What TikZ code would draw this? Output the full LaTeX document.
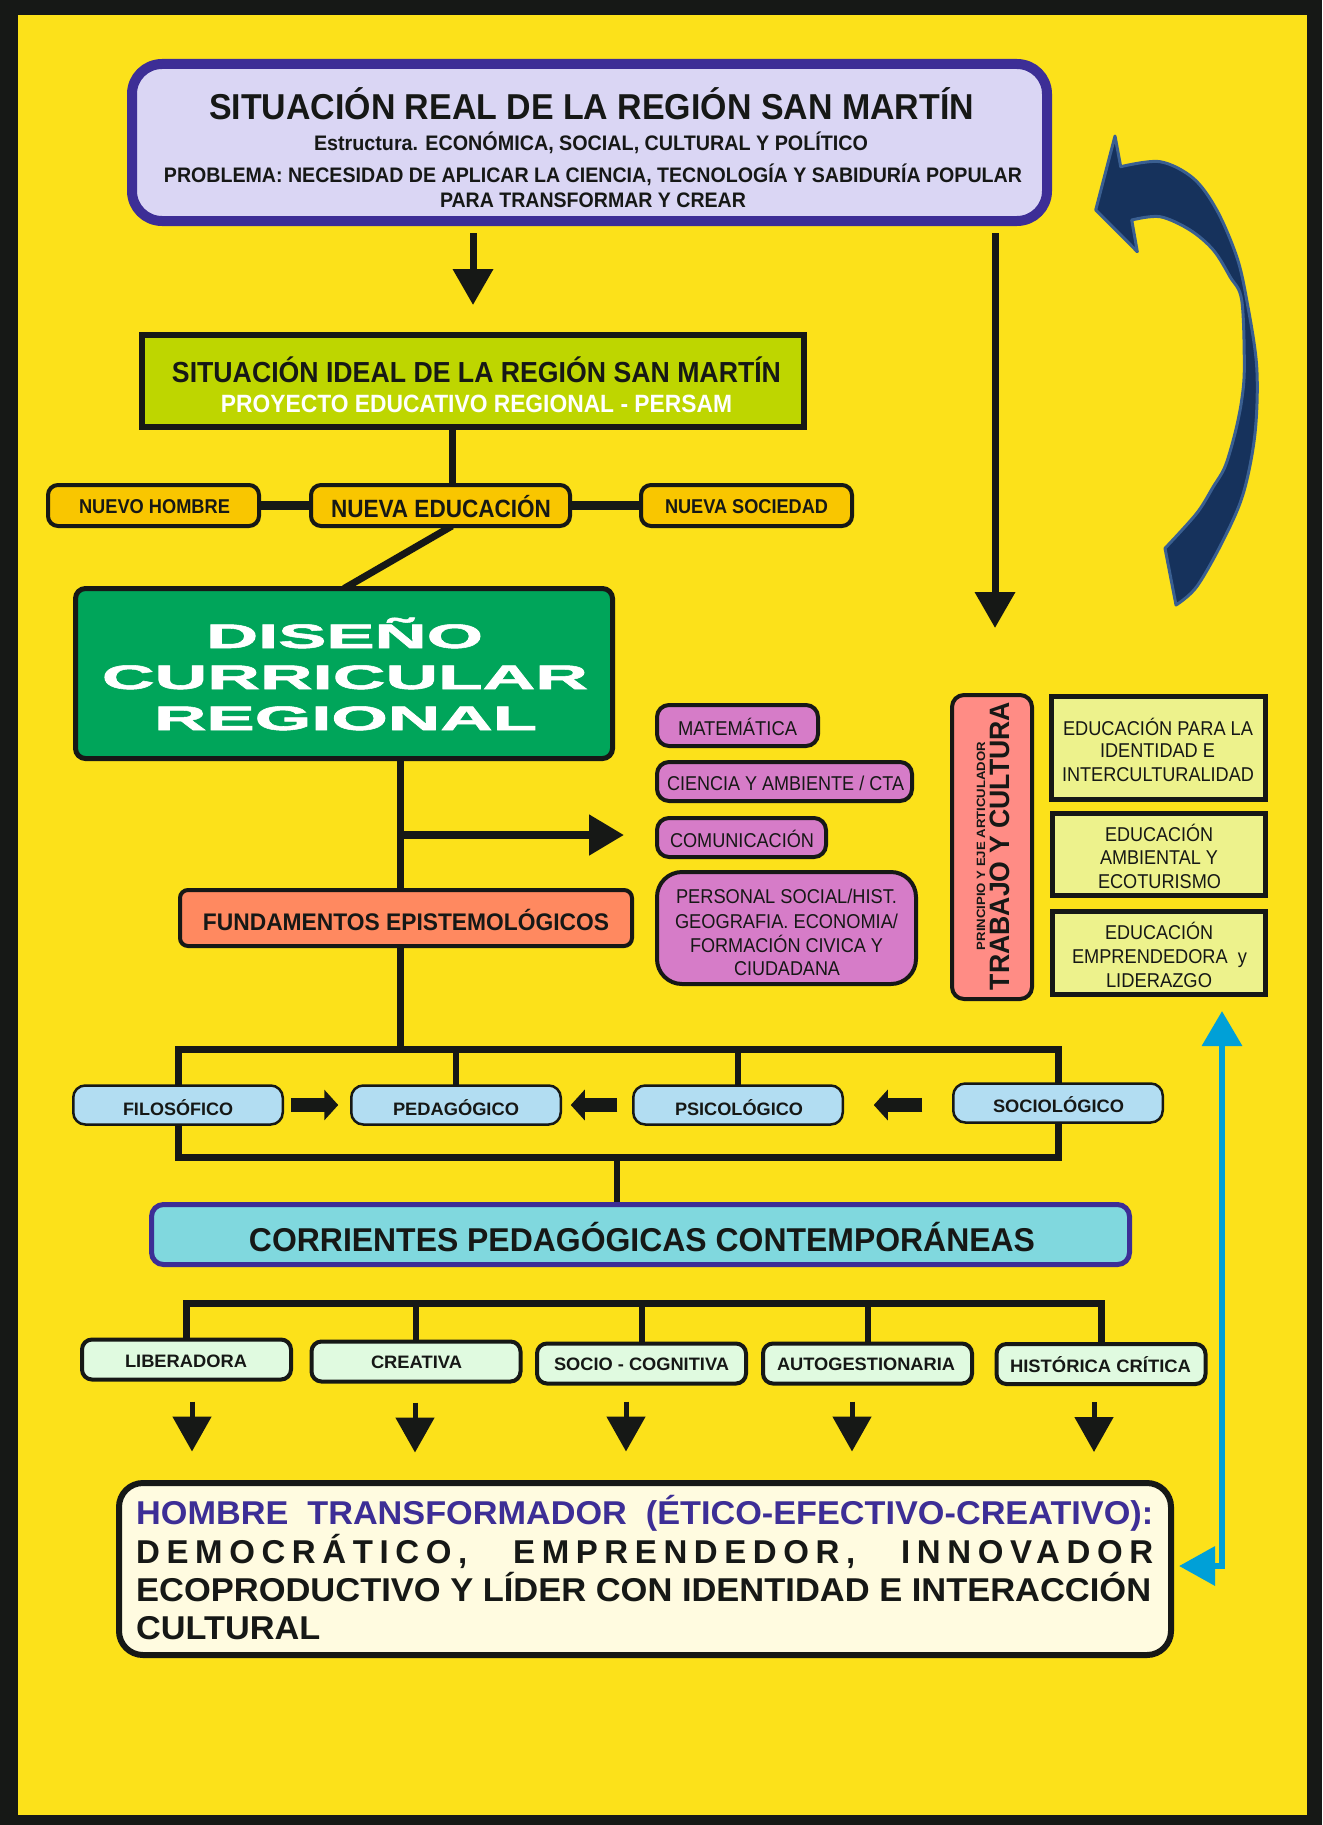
\documentclass[tikz,border=0pt]{standalone}
\usepackage{fontspec}
\setmainfont{Liberation Sans}
\usetikzlibrary{arrows.meta,calc}
\definecolor{bgy}{HTML}{FCE11A}
\definecolor{ink}{HTML}{161816}
\definecolor{lav}{HTML}{DAD6F4}
\definecolor{purp}{HTML}{3D2E96}
\definecolor{lime}{HTML}{BED600}
\definecolor{gold}{HTML}{F9C600}
\definecolor{dgreen}{HTML}{00A55A}
\definecolor{salmon}{HTML}{FF8960}
\definecolor{orchid}{HTML}{D67CC8}
\definecolor{rosy}{HTML}{FF8C85}
\definecolor{paley}{HTML}{EDF28C}
\definecolor{lblue}{HTML}{B2DDF2}
\definecolor{turq}{HTML}{80D8DE}
\definecolor{mint}{HTML}{E0FAE0}
\definecolor{cream}{HTML}{FFFBE0}
\definecolor{cyanb}{HTML}{00A0D7}
\definecolor{navy}{HTML}{16325C}
\definecolor{navyl}{HTML}{3A5F91}
\newcommand\fw[2]{\resizebox{#1}{\height}{#2}}
\pgfdeclarelayer{back}
\pgfdeclarelayer{lines}
\pgfsetlayers{back,lines,main}
\begin{document}
\begin{tikzpicture}[x=1pt,y=-1pt,
  bx/.style={draw=ink, inner sep=0pt, outer sep=0pt},
  txb/.style={anchor=base, inner sep=0pt, text=ink, font=\fontsize{#1}{#1}\selectfont\bfseries},
  txr/.style={anchor=base, inner sep=0pt, text=ink, font=\fontsize{#1}{#1}\selectfont},
  conn/.style={draw=ink, line width=7pt},
  arr/.style={draw=ink, line width=7pt, -{Triangle[length=36pt,width=39pt]}},
  arrs/.style={draw=ink, line width=5pt, -{Triangle[length=35pt,width=38pt]}},
  blk/.style={draw=ink, line width=14pt, -{Triangle[length=14pt,width=30pt]}},
  cyanarr/.style={draw=cyanb, line width=6.5pt, {Triangle[length=36pt,width=38pt]}-{Triangle[length=35pt,width=39pt]}},
  nbox/.style={bx, fill=gold, line width=4pt, rounded corners=10pt, minimum width=#1, minimum height=41pt},
  subj/.style={bx, fill=orchid, line width=4pt, rounded corners=12pt},
  eje/.style={bx, fill=paley, line width=5pt, minimum width=213pt},
  fund/.style={bx, fill=lblue, line width=2.5pt, rounded corners=12pt, minimum width=209.5pt, minimum height=39pt},
  corr/.style={bx, fill=mint, line width=4pt, rounded corners=10pt, minimum width=209pt, minimum height=40pt}
]
\useasboundingbox (0,0) rectangle (1322,1825);
\begin{pgfonlayer}{back}
  \fill[ink] (0,0) rectangle (1322,1825);
  \fill[bgy] (18,15) rectangle (1307,1815);
\end{pgfonlayer}

% ---------- boxes ----------
\node[bx, fill=lav, draw=purp, line width=10pt, rounded corners=30pt, minimum width=915pt, minimum height=157pt] (real) at (589.5,142.5) {};
\node[bx, fill=lime, line width=6pt, minimum width=662pt, minimum height=92pt] (ideal) at (473,381) {};
\node[nbox=211pt] (nhombre) at (153.5,505.5) {};
\node[nbox=259pt] (neduc) at (440.5,505.5) {};
\node[nbox=211pt] (nsoc) at (746.5,505.5) {};
\node[bx, fill=dgreen, line width=5pt, rounded corners=10pt, minimum width=537pt, minimum height=170pt] (diseno) at (344,673.5) {};
\node[bx, fill=salmon, line width=4pt, rounded corners=8pt, minimum width=452pt, minimum height=56pt] (fundep) at (406,918) {};
\node[subj, minimum width=161pt, minimum height=41pt] (mat) at (737.5,725.5) {};
\node[subj, minimum width=255pt, minimum height=39pt] (cien) at (784.5,781.5) {};
\node[subj, minimum width=169pt, minimum height=39pt] (com) at (741.5,837.5) {};
\node[subj, rounded corners=25pt, minimum width=259pt, minimum height=112pt] (pers) at (786.5,928) {};
\node[bx, fill=rosy, line width=4pt, rounded corners=12pt, minimum width=80pt, minimum height=304pt] (trab) at (992,847) {};
\node[eje, minimum width=214pt, minimum height=103pt] (eid) at (1158.5,748) {};
\node[eje, minimum height=82pt] (eamb) at (1159,854.5) {};
\node[eje, minimum height=83pt] (empr) at (1159,953) {};
\node[fund] (fil) at (178,1105) {};
\node[fund] (ped) at (456,1105) {};
\node[fund] (psi) at (738,1105) {};
\node[fund] (soc) at (1058,1103) {};
\node[bx, fill=turq, draw=purp, line width=5pt, rounded corners=12pt, minimum width=978pt, minimum height=60pt] (corrp) at (640.5,1234.5) {};
\node[corr] (lib) at (186.5,1359.5) {};
\node[corr] (cre) at (416,1361.5) {};
\node[corr] (soc2) at (641.5,1363.5) {};
\node[corr] (aut) at (867.5,1363.5) {};
\node[corr] (his) at (1101,1364) {};
\node[bx, fill=cream, line width=6pt, rounded corners=24pt, minimum width=1052pt, minimum height=172pt] (hombre) at (645,1569) {};

% ---------- texts ----------
\node[txb=36] (t1) at (591.5,120) {\fw{765pt}{SITUACIÓN REAL DE LA REGIÓN SAN MARTÍN}};
\node[txb=21] (t2) at (591,150.5) {\fw{554pt}{Estructura. ECONÓMICA, SOCIAL, CULTURAL Y POLÍTICO}};
\node[txb=21] (t3) at (593,182.5) {\fw{858pt}{PROBLEMA: NECESIDAD DE APLICAR LA CIENCIA, TECNOLOGÍA Y SABIDURÍA POPULAR}};
\node[txb=21] (t4) at (593,207.5) {\fw{306pt}{PARA TRANSFORMAR Y CREAR}};
\node[txb=29] (i1) at (476.5,382) {\fw{609pt}{SITUACIÓN IDEAL DE LA REGIÓN SAN MARTÍN}};
\node[txb=25, text=white] (i2) at (476.5,412) {\fw{511pt}{PROYECTO EDUCATIVO REGIONAL - PERSAM}};
\node[txb=20] (n1) at (154.5,513) {\fw{151pt}{NUEVO HOMBRE}};
\node[txb=25] (n2) at (441,517) {\fw{220pt}{NUEVA EDUCACIÓN}};
\node[txb=20] (n3) at (746.5,513) {\fw{163pt}{NUEVA SOCIEDAD}};
\node[txb=34, text=white] (d1) at (344.5,648) {\fw{277pt}{\addfontfeature{FakeBold=1.5}DISEÑO}};
\node[txb=34, text=white] (d2) at (345,689) {\fw{486pt}{\addfontfeature{FakeBold=1.5}CURRICULAR}};
\node[txb=34, text=white] (d3) at (345.5,730) {\fw{383pt}{\addfontfeature{FakeBold=1.5}REGIONAL}};
\node[txb=24] (f1) at (406,930) {\fw{406pt}{FUNDAMENTOS EPISTEMOLÓGICOS}};
\node[txr=20] (s1) at (737.5,735) {\fw{119pt}{MATEMÁTICA}};
\node[txr=20] (s2) at (785.5,790) {\fw{237pt}{CIENCIA Y AMBIENTE / CTA}};
\node[txr=20] (s3) at (742,847) {\fw{144pt}{COMUNICACIÓN}};
\node[txr=20] (s4) at (786.5,903) {\fw{221pt}{PERSONAL SOCIAL/HIST.}};
\node[txr=20] (s5) at (786.5,928) {\fw{223pt}{GEOGRAFIA. ECONOMIA/}};
\node[txr=20] (s6) at (786.5,952) {\fw{193pt}{FORMACIÓN CIVICA Y}};
\node[txr=20] (s7) at (787,975) {\fw{106pt}{CIUDADANA}};
\node[txr=20] (e1) at (1158,735) {\fw{190pt}{EDUCACIÓN PARA LA}};
\node[txr=20] (e2) at (1157.5,757) {\fw{115pt}{IDENTIDAD E}};
\node[txr=20] (e3) at (1158,781) {\fw{192pt}{INTERCULTURALIDAD}};
\node[txr=20] (e4) at (1159,841) {\fw{108pt}{EDUCACIÓN}};
\node[txr=20] (e5) at (1159,864) {\fw{118pt}{AMBIENTAL Y}};
\node[txr=20] (e6) at (1159.5,888) {\fw{123pt}{ECOTURISMO}};
\node[txr=20] (e7) at (1159,939) {\fw{108pt}{EDUCACIÓN}};
\node[txr=20] (e8) at (1159.5,963) {\fw{175pt}{EMPRENDEDORA~ y}};
\node[txr=20] (e9) at (1159,987) {\fw{106pt}{LIDERAZGO}};
\node[txb=28, rotate=90] (tc) at (1009,846) {\fw{288pt}{TRABAJO Y CULTURA}};
\node[txb=12, rotate=90] (pe) at (985,846) {\fw{208pt}{PRINCIPIO Y EJE ARTICULADOR}};
\node[txb=18] (ft1) at (178,1115) {\fw{110pt}{FILOSÓFICO}};
\node[txb=18] (ft2) at (456,1115) {\fw{126pt}{PEDAGÓGICO}};
\node[txb=18] (ft3) at (739,1115) {\fw{128pt}{PSICOLÓGICO}};
\node[txb=18] (ft4) at (1058.5,1112) {\fw{131pt}{SOCIOLÓGICO}};
\node[txb=33] (ct) at (642,1251) {\fw{786pt}{CORRIENTES PEDAGÓGICAS CONTEMPORÁNEAS}};
\node[txb=18] (c1) at (186,1367) {\fw{122pt}{LIBERADORA}};
\node[txb=18] (c2) at (416.5,1368) {\fw{91pt}{CREATIVA}};
\node[txb=18] (c3) at (641.5,1370) {\fw{175pt}{SOCIO - COGNITIVA}};
\node[txb=18] (c4) at (866,1370) {\fw{178pt}{AUTOGESTIONARIA}};
\node[txb=18] (c5) at (1100.5,1372) {\fw{181pt}{HISTÓRICA CRÍTICA}};
\node[txb=33, anchor=base west, text=purp] (h1) at (136,1524) {\fw{1017pt}{HOMBRE\ \ TRANSFORMADOR\ \ (ÉTICO-EFECTIVO-CREATIVO):}};
\node[txb=33, anchor=base west] (h2) at (136,1563) {\makebox[1017pt][s]{\addfontfeature{LetterSpace=20}DEMOCRÁTICO, EMPRENDEDOR, INNOVADOR}};
\node[txb=33, anchor=base west] (h3) at (136,1601) {\fw{1015pt}{ECOPRODUCTIVO Y LÍDER CON IDENTIDAD E INTERACCIÓN}};
\node[txb=33, anchor=base west] (h4) at (136,1639) {\fw{184pt}{CULTURAL}};

% ---------- connectors ----------
\coordinate (btop) at (0,1049);
\coordinate (bbot) at (0,1157);
\coordinate (bc) at (0,1303.5);
\coordinate (sp) at (400,835);
\coordinate (spend) at (624,835);
\coordinate (cmid) at (617,1157);
\begin{pgfonlayer}{lines}
  \draw[arr] ([yshift=-12pt]real.south -| ideal.north) -- ([yshift=30pt]ideal.north);
  \draw[arr] ([yshift=-12pt,xshift=3pt]real.south -| trab.north) -- ([yshift=67pt,xshift=3pt]trab.north);
  \draw[conn] ([xshift=-21pt]ideal.south) -- ([xshift=11.5pt]neduc.north);
  \draw[conn, line width=9pt] (nhombre.east) -- (neduc.west);
  \draw[conn, line width=9pt] (neduc.east) -- (nsoc.west);
  \draw[conn] ([xshift=11.5pt]neduc.south) -- (diseno.north);
  \draw[conn] ([xshift=56pt]diseno.south) -- ([xshift=56pt]diseno.south |- btop);
  \draw[arr, line width=8pt, -{Triangle[length=35pt,width=39pt]}] (sp) -- (spend);
  \draw[conn] (fil.north) -- (fil.north |- btop) -| (soc.north);
  \draw[conn, line width=6pt] (ped.north) -- (ped.north |- btop);
  \draw[conn, line width=6pt] (psi.north) -- (psi.north |- btop);
  \draw[conn] (fil.south) -- (fil.south |- bbot) -| (soc.south);
  \draw[conn, line width=6pt] (cmid) -- (cmid |- corrp.north);
  \draw[blk] ([xshift=8pt]fil.east) -- ([xshift=-13pt]ped.west);
  \draw[blk] ([xshift=-16pt]psi.west) -- ([xshift=10pt]ped.east);
  \draw[blk] ([xshift=-31pt]soc.west |- psi.east) -- ([xshift=31pt]psi.east);
  \draw[conn] (lib.north) -- (lib.north |- bc) -| (his.north);
  \draw[conn, line width=6pt] (cre.north) -- (cre.north |- bc);
  \draw[conn, line width=6pt] (soc2.north) -- (soc2.north |- bc);
  \draw[conn, line width=6pt] (aut.north) -- (aut.north |- bc);
  \draw[arrs] ($(lib.south)+(5.5,22)$) -- ($(lib.south)+(5.5,72)$);
  \draw[arrs] ($(cre.south)+(-1,21)$) -- ($(cre.south)+(-1,71)$);
  \draw[arrs] ($(soc2.south)+(-15.5,18)$) -- ($(soc2.south)+(-15.5,68)$);
  \draw[arrs] ($(aut.south)+(-15.5,18)$) -- ($(aut.south)+(-15.5,68)$);
  \draw[arrs] ($(his.south)+(-7,18)$) -- ($(his.south)+(-7,68)$);
  \draw[cyanarr] ([xshift=8pt,yshift=3pt]hombre.east) -| ([xshift=63pt,yshift=-16.5pt]empr.south);
\end{pgfonlayer}

% ---------- curved return arrow ----------
\filldraw[fill=navy, draw=navyl, line width=3pt, line join=round]
  (1115,136) -- (1095.7,210) -- (1137.3,251.7) -- (1131.7,220)
  -- plot[smooth, tension=0.55] coordinates {(1131.7,220) (1160,216.7) (1190,230) (1213.3,250) (1230,276.7) (1241.7,300) (1244.3,366.7) (1241.7,400) (1235,433.3) (1225,466.7) (1213.3,486.7) (1196.7,513.3) (1165,548.3)}
  -- (1176,605)
  -- plot[smooth, tension=0.55] coordinates {(1176,605) (1196.7,586.7) (1223.3,540) (1243.3,493.3) (1255,433.3) (1256.7,366.7) (1246.7,300) (1236.7,256.7) (1216.7,210) (1193.3,178.3) (1160,161.7) (1120.7,166.7)}
  -- cycle;
\end{tikzpicture}
\end{document}
